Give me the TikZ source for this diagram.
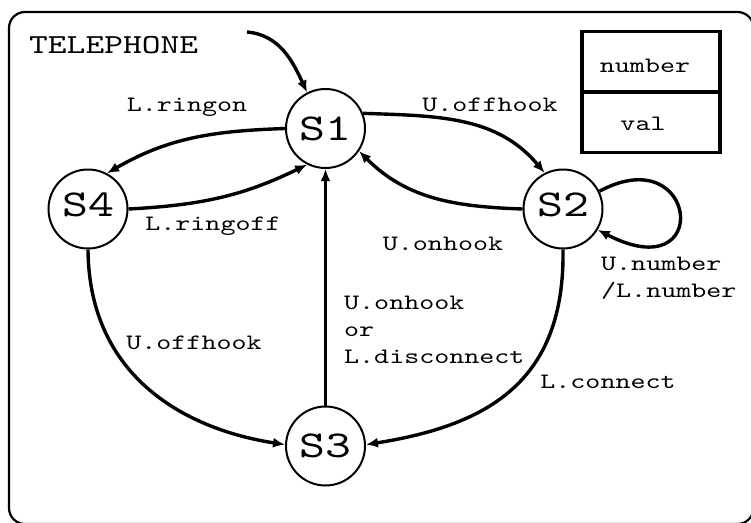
\documentclass[tikz,border=0pt]{standalone}
\usepackage{fontspec}
\newfontfamily\tfont[Extension=.otf,FakeStretch=1.3]{lmmono10-regular}
\usetikzlibrary{arrows.meta}
\begin{document}
\begin{tikzpicture}[x=1pt,y=-1pt,
  state/.style={circle,draw,line width=2pt,minimum size=79pt,inner sep=0pt,font=\tfont\fontsize{38}{38}\selectfont},
  edge/.style={line width=3.4pt,-{Latex[length=12pt,width=10pt]}},
  lbl/.style={font=\tfont\fontsize{22}{27}\selectfont,inner sep=0pt},
  regbox/.style={draw,line width=3.5pt,minimum width=138pt,minimum height=60.5pt,inner sep=0pt},
  frame/.style={draw,line width=2.2pt,rounded corners=16pt}]
\useasboundingbox (0,0) rectangle (751,522);
\draw[frame] (9,12) rectangle (753.5,524);
\node[lbl,font=\tfont\fontsize{27.5}{27.5}\selectfont,anchor=base west] (title) at (29,53) {TELEPHONE};
% register
\node[regbox] (reg1) at (651,61.5) {};
\node[regbox] (reg2) at (651,122) {};
\node[lbl,anchor=base] (num) at (645,72) {number};
\node[lbl,anchor=base] (val) at (643,130) {val};
% states
\node[state] (S1) at (325.5,128.5) {\raisebox{-10pt}{S1}};
\node[state] (S4) at (88,209) {\raisebox{9pt}{S4}};
\node[state] (S2) at (563,209) {\raisebox{9pt}{S2}};
\node[state] (S3) at (325.5,446) {\raisebox{-9pt}{S3}};
% initial
\coordinate (init) at (247,32);
\draw[edge] (init) to[out=-5,in=115] (S1.117);
% transitions
\draw[edge] (S1.180) to[out=182,in=30] (S4.62);
\draw[edge] (S4.0) to[out=3,in=206] (S1.243);
\draw[edge] (S1.22) to[out=-2,in=130] (S2.117);
\draw[edge] (S2.180) to[out=178,in=-45] (S1.-34);
\draw[edge] (S2.26) .. controls (698,138) and (714,290) .. (S2.-31);
\draw[edge] (S2.-90) .. controls (565,380) and (490,425) .. (S3.2);
\draw[edge] (S4.-90) .. controls (89,380) and (190,430) .. (S3.178);
\draw[edge] (S3.90) -- (S1.-90);
% labels
\node[lbl,anchor=base] (lringon) at (187,111) {L.ringon};
\node[lbl,anchor=base] (lringoff) at (213,230) {L.ringoff};
\node[lbl,anchor=base] (uoff1) at (490,111) {U.offhook};
\node[lbl,anchor=base] (uon) at (443,250) {U.onhook};
\node[lbl,anchor=base west,align=left] (unum) at (601,297) {U.number\\/L.number};
\node[lbl,anchor=base] (lconn) at (608,388) {L.connect};
\node[lbl,anchor=base] (uoff2) at (194,349) {U.offhook};
\node[lbl,anchor=base west,align=left] (udisc) at (344,363) {U.onhook\\or\\L.disconnect};
\end{tikzpicture}
\end{document}
